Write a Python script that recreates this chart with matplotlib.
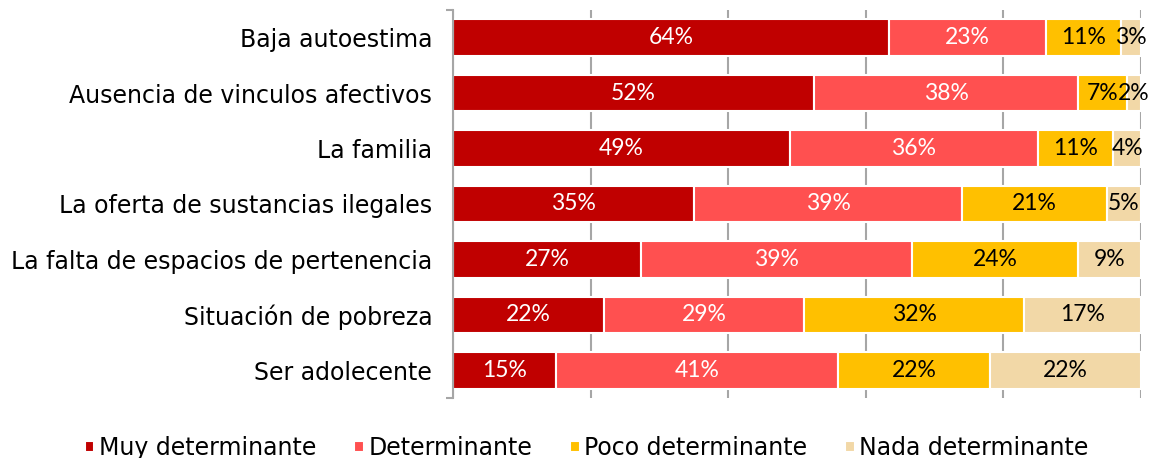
import numpy as np
from matplotlib import pyplot as plt
from matplotlib.ticker import FixedLocator

categories = ['Baja autoestima', 'Ausencia de vinculos afectivos', 'La familia',
              'La oferta de sustancias ilegales', 'La falta de espacios de pertenencia',
              'Situación de pobreza', 'Ser adolecente']
series = ['Muy determinante', 'Determinante', 'Poco determinante', 'Nada determinante']
muy = [64, 52, 49, 35, 27, 22, 15]
det = [23, 38, 36, 39, 39, 29, 41]
poco = [11, 7, 11, 21, 24, 32, 22]
nada = [3, 2, 4, 5, 9, 17, 22]

colors = ['#C00000', '#FF5050', '#FFC000', '#F2D8A7']
txt_colors = ['white', 'white', 'black', 'black']

plt.rcParams['font.family'] = ['DejaVu Sans']

vals = np.array([muy, det, poco, nada], dtype=float)
totals = vals.sum(axis=0)
frac = vals / totals

fig = plt.figure(figsize=(11.53, 4.58), dpi=100)
ax = fig.add_axes([453/1153, 1 - 398/458, (1141-453)/1153, 388/458])

y = np.arange(len(categories))
left = np.zeros(len(categories))
for i, name in enumerate(series):
    bars = ax.barh(y, frac[i], left=left, height=0.66, color=colors[i],
                   edgecolor='white', linewidth=1.5, label=name, zorder=2)
    for j, b in enumerate(bars):
        cx = left[j] + frac[i][j] / 2
        ax.text(cx, y[j], f"{int(vals[i][j])}%", ha='center', va='center',
                color=txt_colors[i], fontsize=16.5, family=['Lato', 'DejaVu Sans'],
                zorder=3)
    left += frac[i]

ax.set_xlim(0, 1)
ax.set_ylim(len(categories) - 0.5, -0.5)
ax.set_xticks(np.linspace(0, 1, 6))
ax.tick_params(axis='x', length=0, labelbottom=False)
ax.grid(axis='x', color='#A6A6A6', linewidth=1.5, zorder=0)
ax.set_axisbelow(True)

ax.set_yticks(y)
ax.set_yticklabels(categories, fontsize=17)
ax.tick_params(axis='y', which='major', length=0, pad=15)
ax.yaxis.set_minor_locator(FixedLocator([-0.5, len(categories) - 0.5]))
ax.tick_params(axis='y', which='minor', length=5, width=1.5, color='#A6A6A6')

for s in ['top', 'right', 'bottom']:
    ax.spines[s].set_visible(False)
ax.spines['left'].set_color('#A6A6A6')
ax.spines['left'].set_linewidth(1.5)

fig.legend(loc='center', bbox_to_anchor=(0.509, 0.022), ncol=4, frameon=False,
           fontsize=17, handlelength=0.4, handleheight=0.4, handletextpad=0.2,
           columnspacing=1.6)

fig.savefig('out.png', dpi=100)
